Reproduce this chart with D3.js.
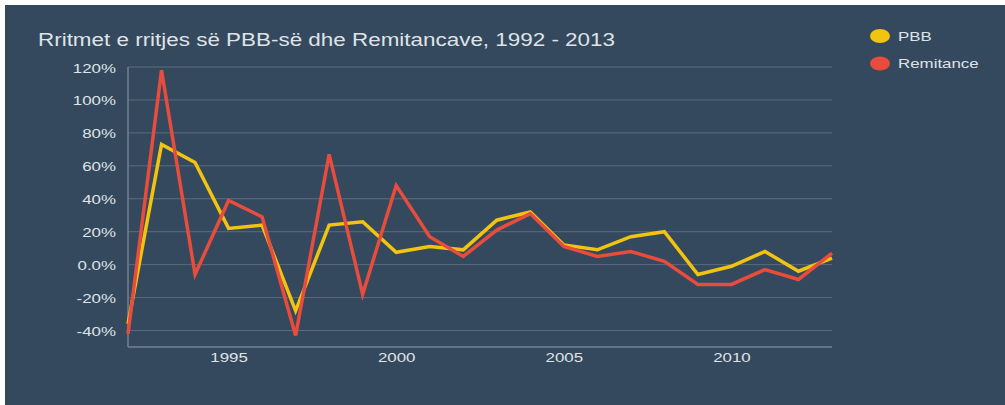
<!DOCTYPE html>
<meta charset="utf-8">
<style>
    body { margin: 0; background: #fff; }
    .grid line { stroke: #5b6c7e; stroke-width: 1px; }
    .tick text { fill: #dfe3e7; font-family: "Liberation Sans", Arial, sans-serif; font-size: 13px; }
</style>
<svg width="1005" height="405"></svg>
<script src="https://d3js.org/d3.v7.min.js"></script>
<script>

    var years = d3.range(1992, 2014);
    var pbb = [-36, 73, 62, 22, 24, -28, 24, 26, 7.5, 11, 9, 27, 32, 12, 9, 17, 20, -6, -1, 8, -4, 4];
    var remitance = [-42, 118, -6, 39, 29, -43, 67, -18, 48, 17, 5, 21, 31, 11, 5, 8, 2, -12, -12, -3, -9, 7];
    var yTicks = [-40, -20, 0, 20, 40, 60, 80, 100, 120];
    var xTicks = [1995, 2000, 2005, 2010];
    var seriesNames = ["PBB", "Remitance"];
    var seriesColors = ["#f1c40f", "#e74c3c"];

    var svg = d3.select("svg");
    var sx = 1.3; // text in the picture is stretched sideways

    svg.append("rect")
        .attr("x", 5).attr("y", 5)
        .attr("width", 1000).attr("height", 400)
        .attr("fill", "#34495e");

    var x = d3.scaleLinear().domain([1992, 2013]).range([128, 832]);
    var y = d3.scaleLinear().domain([-50, 120]).range([347, 67]);

    // grid
    svg.append("g")
        .attr("class", "grid")
        .selectAll("line")
        .data(yTicks)
        .enter().append("line")
        .attr("x1", x(1992)).attr("x2", x(2013))
        .attr("y1", function(d) { return y(d); })
        .attr("y2", function(d) { return y(d); });

    // y axis
    var yAxis = svg.append("g")
        .attr("transform", "translate(" + x(1992) + ",0)")
        .call(d3.axisLeft(y).tickValues(yTicks).tickSize(0)
            .tickFormat(function(d) { return d === 0 ? "0.0%" : d + "%"; }));
    yAxis.select(".domain").remove();
    yAxis.selectAll(".tick text")
        .attr("x", 0).attr("dy", null).attr("y", 5)
        .attr("transform", "translate(-12,0) scale(" + sx + ",1)");

    // x axis
    var xAxis = svg.append("g")
        .attr("transform", "translate(0," + y(-50) + ")")
        .call(d3.axisBottom(x).tickValues(xTicks).tickSize(0).tickFormat(d3.format("d")));
    xAxis.select(".domain").remove();
    xAxis.selectAll(".tick text")
        .attr("y", 0).attr("dy", null)
        .attr("transform", "translate(0,15) scale(" + sx + ",1)");

    // axis lines
    svg.append("line")
        .attr("x1", x(1992)).attr("x2", x(1992))
        .attr("y1", y(120)).attr("y2", y(-50))
        .attr("stroke", "#75818f").attr("stroke-width", 1.5);
    svg.append("line")
        .attr("x1", x(1992)).attr("x2", x(2013))
        .attr("y1", y(-50)).attr("y2", y(-50))
        .attr("stroke", "#75818f").attr("stroke-width", 1.5);

    var line = d3.line()
        .x(function(d, i) { return x(years[i]); })
        .y(function(d) { return y(d); });

    [pbb, remitance].forEach(function(s, i) {
        svg.append("path")
            .datum(s)
            .attr("d", line)
            .attr("fill", "none")
            .attr("stroke", seriesColors[i])
            .attr("stroke-width", 3.5)
            .attr("stroke-linejoin", "miter");
    });

    // title
    svg.append("text")
        .attr("x", 38).attr("y", 46)
        .attr("fill", "#dfe3e7")
        .attr("font-family", "Liberation Sans, Arial, sans-serif")
        .attr("font-size", 17.5)
        .attr("textLength", 577)
        .attr("lengthAdjust", "spacingAndGlyphs")
        .text("Rritmet e rritjes së PBB-së dhe Remitancave, 1992 - 2013");

    // legend
    var legend = svg.append("g").selectAll("g")
        .data(seriesNames)
        .enter().append("g")
        .attr("transform", function(d, i) { return "translate(880," + (36 + i * 27.5) + ")"; });
    legend.append("ellipse")
        .attr("rx", 10).attr("ry", 7)
        .attr("fill", function(d, i) { return seriesColors[i]; });
    legend.append("text")
        .attr("x", 0).attr("y", 4.5)
        .attr("fill", "#dfe3e7")
        .attr("font-family", "Liberation Sans, Arial, sans-serif")
        .attr("font-size", 13)
        .attr("transform", "translate(18,0) scale(" + sx + ",1)")
        .text(function(d) { return d; });

</script>
